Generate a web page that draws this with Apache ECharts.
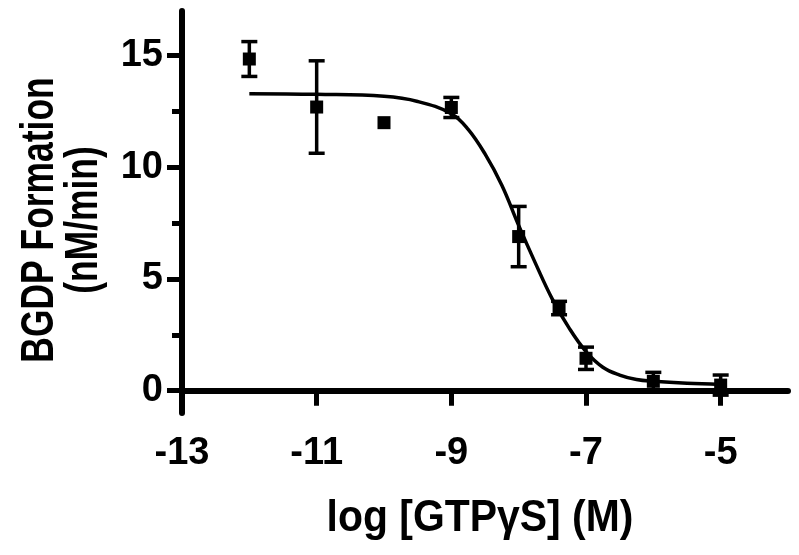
<!DOCTYPE html>
<html>
<head>
<meta charset="utf-8">
<script src="https://cdn.jsdelivr.net/npm/echarts@6/dist/echarts.min.js"></script>
<style>
html,body{margin:0;padding:0;background:#fff;}
#chart{width:799px;height:555px;}
</style>
</head>
<body>
<div id="chart"></div>
<script>
// Measured points: log[GTPγS] (M), mean BGDP formation (nM/min), error (±)
const logConc = [-12, -11, -10, -9, -8, -7.4, -7, -6, -5];
const meanVals = [14.85, 12.7, 12.0, 12.68, 6.9, 3.7, 1.45, 0.42, 0.25];
const errVals = [0.78, 2.07, 0, 0.45, 1.35, 0.3, 0.5, 0.4, 0.45];

// Fitted curve
const curveX = [-12, -11, -10, -9.5, -9, -8.75, -8.5, -8.25, -8, -7.75, -7.5, -7.25, -7, -6.75, -6.5, -6.25, -6, -5.5, -5];
const curveY = [13.30, 13.27, 13.18, 12.95, 12.40, 11.70, 10.60, 9.20, 7.40, 5.70, 4.10, 2.80, 1.75, 1.05, 0.70, 0.50, 0.42, 0.33, 0.28];

// Axis ticks
const xTicks = [-13, -11, -9, -7, -5];
const yMajorTicks = [0, 5, 10, 15];
const yMinorTicks = [2.5, 7.5, 12.5];

// Titles
const xTitle = 'log [GTPγS] (M)';
const yTitle1 = 'BGDP Formation';
const yTitle2 = '(nM/min)';

const chart = echarts.init(document.getElementById('chart'), null, {renderer: 'canvas'});

const pts = logConc.map((x, i) => [x, meanVals[i]]);
const errData = logConc.map((x, i) => [x, meanVals[i] - errVals[i], meanVals[i] + errVals[i]]);
const curve = curveX.map((x, i) => [x, curveY[i]]);

const font = 'Liberation Sans, Arial, sans-serif';
const titleStyle = (t, size) => ({text: t, fill: '#000', font: 'bold ' + size + 'px ' + font, align: 'center', verticalAlign: 'middle'});

chart.setOption({
  animation: false,
  backgroundColor: '#fff',
  grid: {left: 182, right: 11, top: 11, bottom: 142},
  xAxis: {
    type: 'value', min: -13, max: -4,
    axisLine: {show: true, lineStyle: {color: '#000', width: 6}},
    axisTick: {show: true, length: 15, lineStyle: {color: '#000', width: 5}, customValues: xTicks},
    axisLabel: {customValues: xTicks, color: '#000', fontFamily: font, fontWeight: 'bold', fontSize: 38, margin: 22},
    splitLine: {show: false}
  },
  yAxis: [{
    type: 'value', min: -1, max: 17,
    axisLine: {show: true, lineStyle: {color: '#000', width: 6}},
    axisTick: {show: true, length: 15, lineStyle: {color: '#000', width: 5}, customValues: yMajorTicks},
    axisLabel: {customValues: yMajorTicks, color: '#000', fontFamily: font, fontWeight: 'bold', fontSize: 38, margin: 19},
    splitLine: {show: false}
  }, {
    type: 'value', min: -1, max: 17, position: 'left',
    axisLine: {show: false},
    axisTick: {show: true, length: 10, lineStyle: {color: '#000', width: 5}, customValues: yMinorTicks},
    axisLabel: {show: false},
    splitLine: {show: false}
  }],
  graphic: [
    {type: 'text', x: 480, y: 519, scaleX: 0.93, style: titleStyle(xTitle, 44)},
    {type: 'text', x: 40, y: 220, rotation: Math.PI / 2, scaleX: 0.77, style: titleStyle(yTitle1, 46)},
    {type: 'text', x: 84, y: 220, rotation: Math.PI / 2, scaleX: 0.77, style: titleStyle(yTitle2, 46)}
  ],
  series: [{
    type: 'line', data: curve, smooth: 0.4, showSymbol: false, symbol: 'none',
    lineStyle: {color: '#000', width: 3.5}, z: 2
  }, {
    type: 'custom', data: errData, z: 3,
    renderItem: function (params, api) {
      const x = api.value(0);
      const lo = api.coord([x, api.value(1)]);
      const hi = api.coord([x, api.value(2)]);
      const hw = 8;
      const style = {stroke: '#000', lineWidth: 3.5};
      if (api.value(2) - api.value(1) <= 0) return {type: 'group', children: []};
      return {type: 'group', children: [
        {type: 'line', shape: {x1: lo[0], y1: lo[1], x2: hi[0], y2: hi[1]}, style: style},
        {type: 'line', shape: {x1: lo[0] - hw, y1: lo[1], x2: lo[0] + hw, y2: lo[1]}, style: style},
        {type: 'line', shape: {x1: hi[0] - hw, y1: hi[1], x2: hi[0] + hw, y2: hi[1]}, style: style}
      ]};
    }
  }, {
    type: 'scatter', data: pts, symbol: 'rect', symbolSize: 13, z: 4,
    itemStyle: {color: '#000', opacity: 1}
  }]
});
</script>
</body>
</html>
